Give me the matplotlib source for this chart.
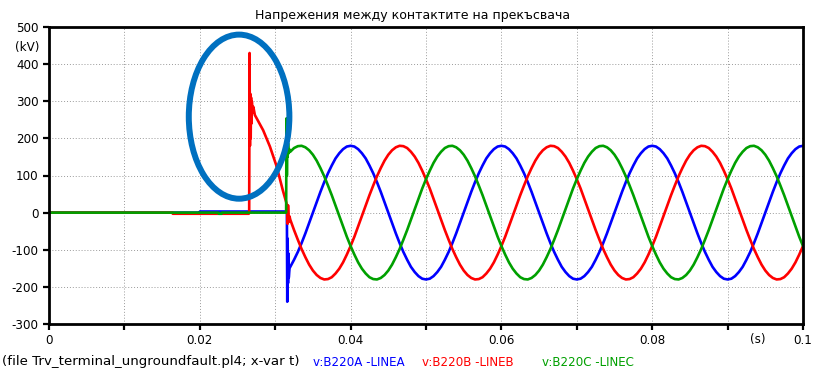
import numpy as np
import matplotlib.pyplot as plt
from matplotlib.patches import Ellipse

plt.rcParams['font.family'] = ['DejaVu Sans']
plt.rcParams['axes.unicode_minus'] = False

W, H = 814, 369

# switching transient, t in ms
t_a_tr = [0, 20, 20.01, 31.5, 31.55, 31.6, 31.65, 31.7, 31.75, 31.8, 31.9]
v_a_tr = [0, 0, 3, 3, 0, -240, -70, -190, -110, -175, -150]

t_b_tr = [0, 16.4, 16.41, 26.5, 26.55, 26.6, 26.65, 26.7, 26.75, 26.8, 26.85, 26.9,
          27.0, 27.1, 27.3, 28.4, 29.3, 30.2, 31.0, 31.5, 31.6, 31.65, 31.7, 31.8, 31.9]
v_b_tr = [0, 0, -3, -3, 0, 430, 180, 320, 200, 310, 240, 300,
          270, 285, 263, 222, 178, 124, 61, 25, 0, -30, 20, -25, -10]

t_c_tr = [0, 22.5, 22.51, 22.9, 22.91, 31.45, 31.5, 31.55, 31.6, 31.65, 31.7, 31.8, 31.9]
v_c_tr = [0, 0, -3, -3, 0, 0, 254, 100, 200, 150, 187, 160, 170]

# steady state after the breaker opens, sampled every 0.5 ms from 32 to 100 ms
t_ss = np.arange(64, 201) / 2.0
v_a_ss = [-146, -127, -106, -82, -56, -28, 0, 28, 56, 82, 106, 127, 146, 160, 171, 178, 180, 178, 171, 160,
          146, 127, 106, 82, 56, 28, 0, -28, -56, -82, -106, -127, -146, -160, -171, -178, -180, -178, -171, -160,
          -146, -127, -106, -82, -56, -28, 0, 28, 56, 82, 106, 127, 146, 160, 171, 178, 180, 178, 171, 160,
          146, 127, 106, 82, 56, 28, 0, -28, -56, -82, -106, -127, -146, -160, -171, -178, -180, -178, -171, -160,
          -146, -127, -106, -82, -56, -28, 0, 28, 56, 82, 106, 127, 146, 160, 171, 178, 180, 178, 171, 160,
          146, 127, 106, 82, 56, 28, 0, -28, -56, -82, -106, -127, -146, -160, -171, -178, -180, -178, -171, -160,
          -146, -127, -106, -82, -56, -28, 0, 28, 56, 82, 106, 127, 146, 160, 171, 178, 180]
v_b_ss = [-19, -47, -73, -98, -120, -140, -156, -168, -176, -180, -179, -174, -164, -151, -134, -113, -90, -65, -37, -9,
          19, 47, 73, 98, 120, 140, 156, 168, 176, 180, 179, 174, 164, 151, 134, 113, 90, 65, 37, 9,
          -19, -47, -73, -98, -120, -140, -156, -168, -176, -180, -179, -174, -164, -151, -134, -113, -90, -65, -37, -9,
          19, 47, 73, 98, 120, 140, 156, 168, 176, 180, 179, 174, 164, 151, 134, 113, 90, 65, 37, 9,
          -19, -47, -73, -98, -120, -140, -156, -168, -176, -180, -179, -174, -164, -151, -134, -113, -90, -65, -37, -9,
          19, 47, 73, 98, 120, 140, 156, 168, 176, 180, 179, 174, 164, 151, 134, 113, 90, 65, 37, 9,
          -19, -47, -73, -98, -120, -140, -156, -168, -176, -180, -179, -174, -164, -151, -134, -113, -90]
v_c_ss = [164, 174, 179, 180, 176, 168, 156, 140, 120, 98, 73, 47, 19, -9, -37, -65, -90, -113, -134, -151,
          -164, -174, -179, -180, -176, -168, -156, -140, -120, -98, -73, -47, -19, 9, 37, 65, 90, 113, 134, 151,
          164, 174, 179, 180, 176, 168, 156, 140, 120, 98, 73, 47, 19, -9, -37, -65, -90, -113, -134, -151,
          -164, -174, -179, -180, -176, -168, -156, -140, -120, -98, -73, -47, -19, 9, 37, 65, 90, 113, 134, 151,
          164, 174, 179, 180, 176, 168, 156, 140, 120, 98, 73, 47, 19, -9, -37, -65, -90, -113, -134, -151,
          -164, -174, -179, -180, -176, -168, -156, -140, -120, -98, -73, -47, -19, 9, 37, 65, 90, 113, 134, 151,
          164, 174, 179, 180, 176, 168, 156, 140, 120, 98, 73, 47, 19, -9, -37, -65, -90]

series = [
    ('v:B220A -LINEA', '#0000FF', t_a_tr, v_a_tr, v_a_ss),
    ('v:B220B -LINEB', '#FF0000', t_b_tr, v_b_tr, v_b_ss),
    ('v:B220C -LINEC', '#00A000', t_c_tr, v_c_tr, v_c_ss),
]

xticks = [0, 0.02, 0.04, 0.06, 0.08, 0.1]
xtick_labels = ['0', '0.02', '0.04', '0.06', '0.08', '0.1']
yticks = [-300, -200, -100, 0, 100, 200, 300, 400, 500]

fig = plt.figure(figsize=(W / 100, H / 100), dpi=100)
ax = fig.add_axes([49 / W, (H - 324) / H, (803 - 49) / W, (324 - 27) / H])

for name, col, t_tr, v_tr, v_ss in series:
    t = np.concatenate([np.array(t_tr), t_ss]) / 1000.0
    v = np.concatenate([np.array(v_tr), np.array(v_ss)])
    ax.plot(t, v, color=col, lw=1.9, solid_joinstyle='round')

ax.set_xlim(0, 0.1)
ax.set_ylim(-300, 500)
ax.set_xticks(xticks)
ax.set_xticklabels(xtick_labels)
ax.set_xticks(np.arange(0.01, 0.1, 0.02), minor=True)
ax.set_yticks(yticks)
ax.set_yticklabels([str(y) for y in yticks])

ax.grid(True, which='both', color='#9a9a9a', lw=0.7, linestyle=(0, (1, 2)))
ax.tick_params(which='both', direction='out', length=4.5, width=1.6, labelsize=8.6, pad=3)
for s in ax.spines.values():
    s.set_linewidth(2.0)

# highlight of the recovery voltage spike
ax.add_patch(Ellipse((0.02521, 258.5), 0.01334, 442, fill=False,
                     edgecolor='#0070C0', lw=4.3, zorder=10, clip_on=False))

fig.text(27 / W, 1 - 48 / H, '(kV)', ha='center', va='center', fontsize=8.6)
fig.text(758 / W, 1 - 340 / H, '(s)', ha='center', va='center', fontsize=8.6)
fig.text(413 / W, 1 - 15 / H, 'Напрежения между контактите на прекъсвача',
         ha='center', va='center', fontsize=9.0)

fig.text(2 / W, 1 - 362 / H, '(file Trv_terminal_ungroundfault.pl4; x-var t)',
         ha='left', va='center', fontsize=9.6)
for (name, col, *_), x0 in zip(series, [313, 422, 542]):
    fig.text(x0 / W, 1 - 362 / H, name, ha='left', va='center', fontsize=8.6, color=col)

fig.savefig('out.png', dpi=100)
